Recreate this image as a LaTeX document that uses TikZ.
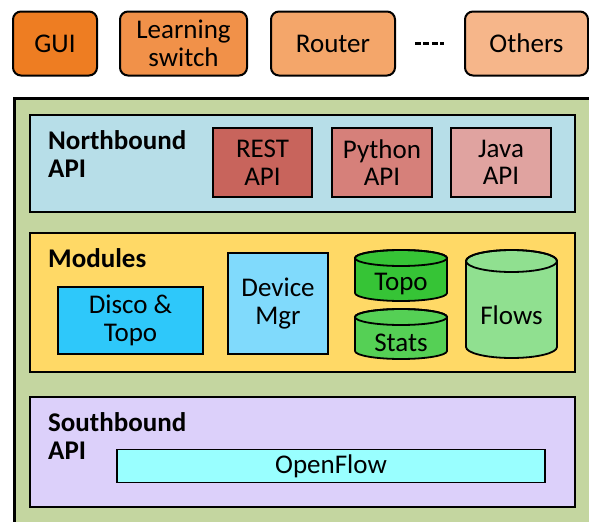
\documentclass[tikz,border=0pt]{standalone}
\usepackage{fontspec}
\setmainfont{Carlito}
\usetikzlibrary{calc}
\definecolor{cGui}{HTML}{EE7D22}
\definecolor{cLearn}{HTML}{F19149}
\definecolor{cRouter}{HTML}{F4A66A}
\definecolor{cOthers}{HTML}{F6B68A}
\definecolor{cOuter}{HTML}{C4D6A0}
\definecolor{cNorth}{HTML}{B7DEE8}
\definecolor{cRest}{HTML}{C8645C}
\definecolor{cPython}{HTML}{D6807A}
\definecolor{cJava}{HTML}{E0A3A0}
\definecolor{cModules}{HTML}{FFD966}
\definecolor{cDisco}{HTML}{2EC8FA}
\definecolor{cDevice}{HTML}{80DAFC}
\definecolor{cTopo}{HTML}{36C436}
\definecolor{cStats}{HTML}{55D055}
\definecolor{cFlows}{HTML}{90E090}
\definecolor{cSouth}{HTML}{DCD0FA}
\definecolor{cOpen}{HTML}{99FFFF}
\newcommand\mycyl[7]{% name, x1, x2, ytop, ybot, ry, color
  \pgfmathsetmacro\myrx{(#3-#2)/2}
  \filldraw[fill=#7, draw=black, line width=1.8pt]
    (#2,#4-#6) -- (#2,#5+#6)
    arc[start angle=180, end angle=360, x radius=\myrx, y radius=#6]
    -- (#3,#4-#6)
    arc[start angle=0, end angle=180, x radius=\myrx, y radius=#6] -- cycle;
  \draw[line width=1.8pt] ({(#2+#3)/2},#4-#6) ellipse [x radius=\myrx, y radius=#6];
  \coordinate (#1) at ({(#2+#3)/2},{(#4+#5)/2});
}
\begin{document}
\begin{tikzpicture}[x=1pt,y=1pt,
  every node/.style={font=\fontsize{27}{27.5}\selectfont, align=center, inner sep=0pt},
  topbox/.style={draw=black, line width=2pt, rounded corners=8pt},
  panel/.style={draw=black, line width=2pt},
  inbox/.style={draw=black, line width=1.6pt},
  lbl/.style={anchor=west, align=left, font=\fontsize{27}{27.5}\selectfont\bfseries}]
\useasboundingbox (0,0) rectangle (589,-522);
\clip (0,0) rectangle (589,-522);
% top applications
\node[topbox, fill=cGui, minimum width=84pt, minimum height=64pt] (gui) at (55,-43.5) {GUI};
\node[topbox, fill=cLearn, minimum width=127pt, minimum height=64pt] (learn) at (183.5,-43.5) {Learning\\switch};
\node[topbox, fill=cRouter, minimum width=124pt, minimum height=64pt] (router) at (333,-43.5) {Router};
\node[topbox, fill=cOthers, minimum width=123pt, minimum height=64pt] (others) at (526.5,-43.5) {Others};
\draw[line width=2.6pt, dash pattern=on 6pt off 2.4pt]
  ($(router.east)+(19,0)$) -- ($(others.west)+(-20,0)$);
% outer controller box
\draw[fill=cOuter, draw=black, line width=3pt] (14,-98) rectangle (620,-560);
% northbound
\node[panel, fill=cNorth, minimum width=545pt, minimum height=97pt] (north) at (302.5,-163.5) {};
\node[lbl] (northlbl) at (48,-154) {Northbound\\API};
\node[inbox, fill=cRest, minimum width=99pt, minimum height=69pt] (rest) at (262.5,-162.5) {REST\\API};
\node[inbox, fill=cPython, minimum width=100pt, minimum height=69pt] (python) at (382,-162.5) {Python\\API};
\node[inbox, fill=cJava, minimum width=100pt, minimum height=69pt] (java) at (501,-162.5) {Java\\API};
% modules
\node[panel, fill=cModules, minimum width=545pt, minimum height=139pt] (modules) at (302.5,-302.5) {};
\node[lbl] (modlbl) at (48,-258) {Modules};
\node[inbox, fill=cDisco, minimum width=145pt, minimum height=67pt] (disco) at (130.5,-320.5) {Disco \&\\Topo};
\node[inbox, fill=cDevice, minimum width=100pt, minimum height=101pt] (device) at (278,-303.5) {Device\\Mgr};
\mycyl{topocyl}{355}{447}{-250}{-301}{8}{cTopo}
\node (topo) at (401,-284) {Topo};
\mycyl{statscyl}{355}{447}{-309}{-359}{8}{cStats}
\node (stats) at (401,-343) {Stats};
\mycyl{flowscyl}{466}{557}{-250}{-358}{11}{cFlows}
\node (flows) at (511.5,-315) {Flows};
% southbound
\node[panel, fill=cSouth, minimum width=545pt, minimum height=110pt] (south) at (302.5,-452) {};
\node[lbl] (southlbl) at (48,-436) {Southbound\\API};
\node[inbox, fill=cOpen, minimum width=428pt, minimum height=33pt] (openflow) at (331,-466) {OpenFlow};
\end{tikzpicture}
\end{document}
